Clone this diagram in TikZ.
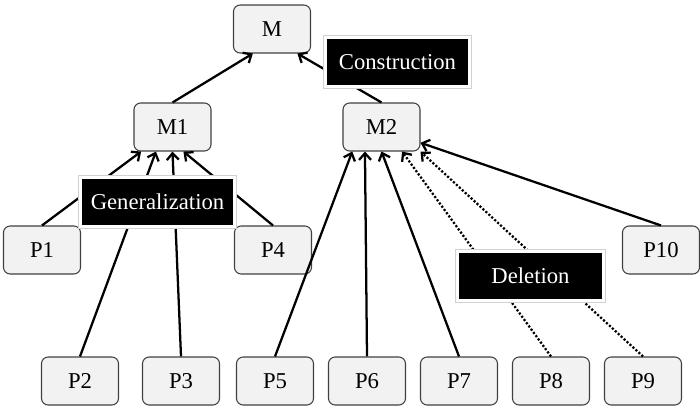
\documentclass[tikz,border=0pt]{standalone}
\usepackage{fontspec}
\setmainfont{Liberation Serif}
\usepackage{xcolor}
\usetikzlibrary{arrows.meta, positioning}
\definecolor{colBox}{RGB}{242,242,242}
\definecolor{colEdge}{RGB}{64,64,64}

\begin{document}
\begin{tikzpicture}[
  x=0.75pt, y=-0.75pt,
  box/.style={draw=colEdge, line width=0.8pt, rounded corners=5pt, fill=colBox,
              minimum width=57.75pt, minimum height=36pt, inner sep=0pt,
              font=\fontsize{17}{20}\selectfont},
  tag/.style={fill=black, text=white, draw=white, line width=2.2pt,
              preaction={draw=black!18, line width=3.6pt},
              minimum width=#1, minimum height=37pt, inner sep=0pt,
              font=\fontsize{17}{20}\selectfont},
  arr/.style={-{Straight Barb[length=5pt, width=9pt]}, line width=1.7pt, #1},
  arr/.default={},
]
\useasboundingbox (0,0) rectangle (700,408);

% ─── MODELS ───────────────────────────────────────────────────────────────────
\node[box] (M)  at (272,29)    {M};
\node[box] (M1) at (172.5,127) {M1};
\node[box] (M2) at (381.5,127) {M2};

% ─── PARTS ────────────────────────────────────────────────────────────────────
\node[box] (P1)  at (42,250)  {P1};
\node[box] (P4)  at (273,250) {P4};
\node[box] (P10) at (661,250) {P10};

\node[box] (P2) at (80,381)  {P2};
\node[box] (P3) at (181,381) {P3};
\node[box] (P5) at (275,381) {P5};
\node[box] (P6) at (367,381) {P6};
\node[box] (P7) at (459,381) {P7};
\node[box] (P8) at (551,381) {P8};
\node[box] (P9) at (643,381) {P9};

% ─── CONSTRUCTION ─────────────────────────────────────────────────────────────
\draw[arr] (M1.north) -- (M.232);
\draw[arr] (M2.north) -- (M.316);

% ─── GENERALIZATION ───────────────────────────────────────────────────────────
\draw[arr] (P1.north) -- (M1.218);
\draw[arr] (P2.north) -- (M1.236);
\draw[arr] (P3.north) -- (M1.270);
\draw[arr] (P4.north) -- (M1.294);

% ─── M2 INPUTS ────────────────────────────────────────────────────────────────
\draw[arr] (P5.north)  -- (M2.220);
\draw[arr] (P6.north)  -- (M2.236);
\draw[arr] (P7.north)  -- (M2.270);
\draw[arr={dash pattern=on 1.6pt off 1.4pt}] (P8.north) -- (M2.310);
\draw[arr={dash pattern=on 1.6pt off 1.4pt}] (P9.north) -- (M2.south east);
\draw[arr] (P10.north) -- (M2.338);

% ─── LABELS ───────────────────────────────────────────────────────────────────
\node[tag=108pt] (construction)   at (397.5,62)  {Construction};
\node[tag=115pt] (generalization) at (157.5,202) {Generalization};
\node[tag=109pt] (deletion)       at (530.5,276) {Deletion};

\end{tikzpicture}
\end{document}
